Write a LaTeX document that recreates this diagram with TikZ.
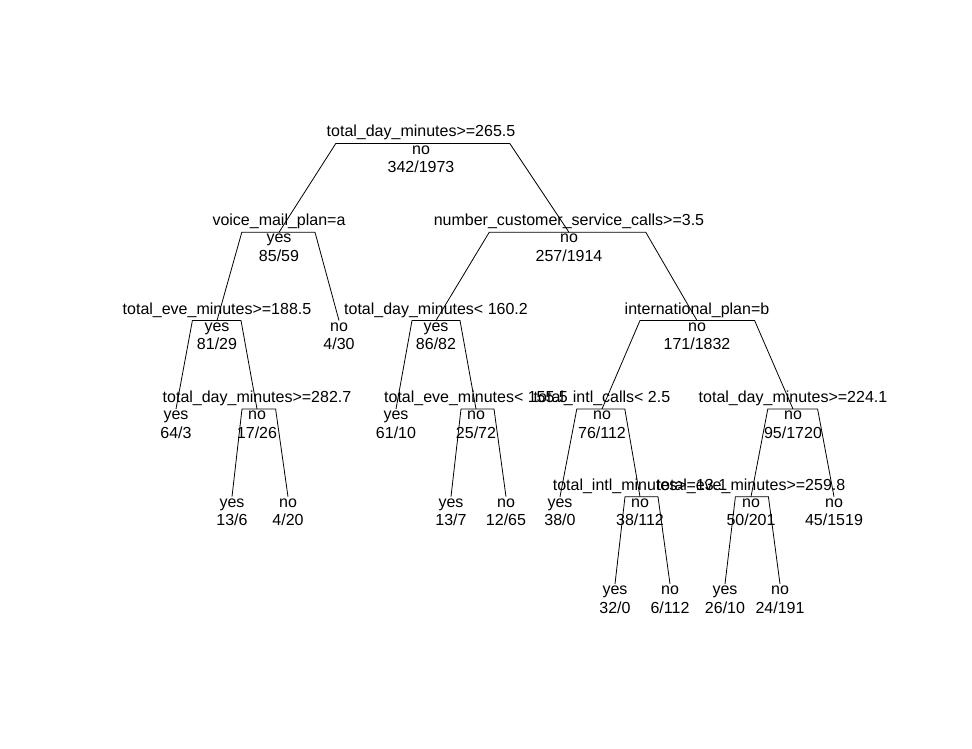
\documentclass[tikz,border=0pt]{standalone}
\usepackage{fontspec}
\setmainfont{Liberation Sans}
\usetikzlibrary{calc}
\tikzset{
  txt/.style={font=\fontsize{16}{18}\selectfont, anchor=base, inner sep=0pt, outer sep=0pt},
  branch/.style={draw=black, line width=0.8pt, line join=miter}
}
% internal node: name, x, y, split label, class, counts
\newcommand\splitnode[6]{%
  \coordinate (#1) at (#2,#3);
  \node[txt, yshift=6.5pt] (#1-split) at (#1) {#4};
  \node[txt, yshift=-10.5pt] (#1-class) at (#1) {#5};
  \node[txt, yshift=-29pt] (#1-count) at (#1) {#6};
}
% leaf: name, x, y, class, counts
\newcommand\leafnode[5]{%
  \coordinate (#1) at (#2,#3);
  \node[txt, yshift=-10.5pt] (#1-class) at (#1) {#4};
  \node[txt, yshift=-29pt] (#1-count) at (#1) {#5};
}
% branch: parent, left child, right child
\newcommand\branchto[3]{%
  \draw[branch] (#2) -- ($(#1)!0.6!(#2|-#1)$) -- ($(#1)!0.6!(#3|-#1)$) -- (#3);
}
\begin{document}
\begin{tikzpicture}[x=1pt, y=-1pt]
\useasboundingbox (0,0) rectangle (972,749);
\fill[white] (0,0) rectangle (972,749);

\splitnode{n1}{421}{143.5}{total\_day\_minutes>=265.5}{no}{342/1973}
\splitnode{n2}{279}{232.3}{voice\_mail\_plan=a}{yes}{85/59}
\splitnode{n3}{569}{232.3}{number\_customer\_service\_calls>=3.5}{no}{257/1914}
\splitnode{n4}{217}{320.5}{total\_eve\_minutes>=188.5}{yes}{81/29}
\leafnode{n5}{339}{320.5}{no}{4/30}
\splitnode{n6}{436}{320.5}{total\_day\_minutes< 160.2}{yes}{86/82}
\splitnode{n7}{697}{320.5}{international\_plan=b}{no}{171/1832}
\leafnode{n8}{176}{409}{yes}{64/3}
\splitnode{n9}{257}{409}{total\_day\_minutes>=282.7}{no}{17/26}
\leafnode{n10}{396}{409}{yes}{61/10}
\splitnode{n11}{476}{409}{total\_eve\_minutes< 155.5}{no}{25/72}
\splitnode{n12}{602}{409}{total\_intl\_calls< 2.5}{no}{76/112}
\splitnode{n13}{793}{409}{total\_day\_minutes>=224.1}{no}{95/1720}
\leafnode{n14}{232}{496.7}{yes}{13/6}
\leafnode{n15}{288}{496.7}{no}{4/20}
\leafnode{n16}{451}{496.7}{yes}{13/7}
\leafnode{n17}{506}{496.7}{no}{12/65}
\leafnode{n18}{560}{496.7}{yes}{38/0}
\splitnode{n19}{640}{496.7}{total\_intl\_minutes>=13.1}{no}{38/112}
\splitnode{n20}{751}{496.7}{total\_eve\_minutes>=259.8}{no}{50/201}
\leafnode{n21}{834}{496.7}{no}{45/1519}
\leafnode{n22}{615}{584}{yes}{32/0}
\leafnode{n23}{670}{584}{no}{6/112}
\leafnode{n24}{725}{584}{yes}{26/10}
\leafnode{n25}{780}{584}{no}{24/191}

\branchto{n1}{n2}{n3}
\branchto{n2}{n4}{n5}
\branchto{n3}{n6}{n7}
\branchto{n4}{n8}{n9}
\branchto{n6}{n10}{n11}
\branchto{n7}{n12}{n13}
\branchto{n9}{n14}{n15}
\branchto{n11}{n16}{n17}
\branchto{n12}{n18}{n19}
\branchto{n13}{n20}{n21}
\branchto{n19}{n22}{n23}
\branchto{n20}{n24}{n25}
\end{tikzpicture}
\end{document}
